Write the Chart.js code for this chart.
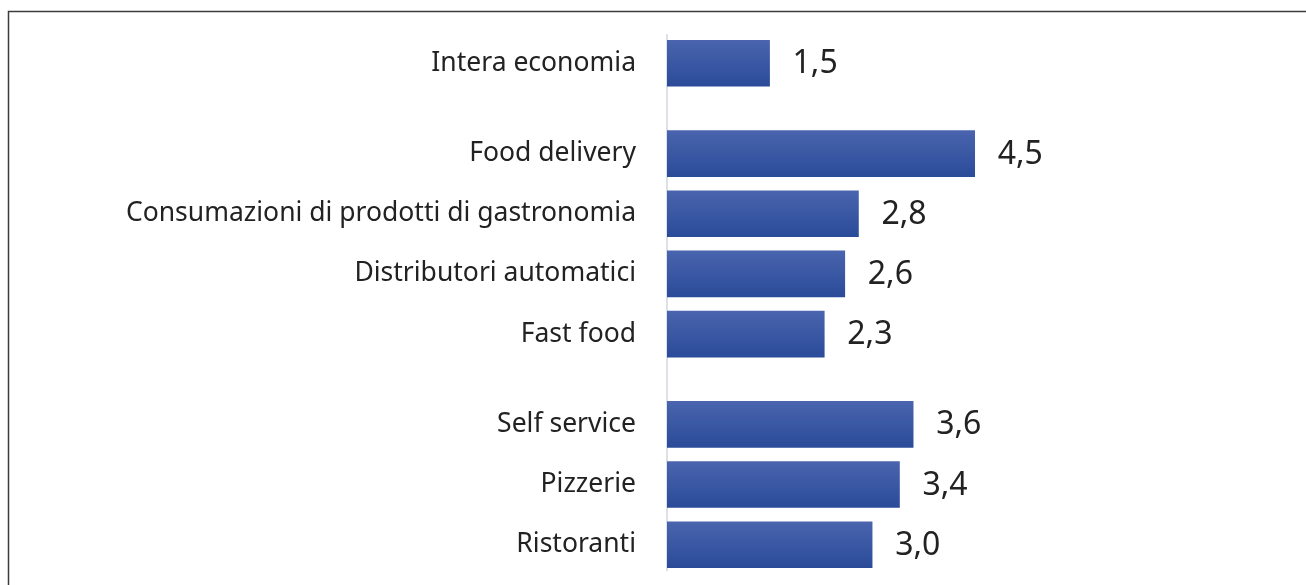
<!DOCTYPE html>
<html>
<head>
<meta charset="utf-8">
<script src="https://cdn.jsdelivr.net/npm/chart.js@4/dist/chart.umd.min.js"></script>
<style>
  html, body { margin: 0; padding: 0; background: #fff; }
  #wrap { position: relative; width: 1306px; height: 585px; }
</style>
</head>
<body>
<div id="wrap"><canvas id="c" width="1306" height="585"></canvas></div>
<script>
// ---- data ----
const groupA = ['Intera economia'];
const groupB = ['Food delivery', 'Consumazioni di prodotti di gastronomia', 'Distributori automatici', 'Fast food'];
const groupC = ['Self service', 'Pizzerie', 'Ristoranti'];
const valuesA = [1.5];
const valuesB = [4.5, 2.8, 2.6, 2.3];
const valuesC = [3.6, 3.4, 3.0];

const groups = [groupA, groupB, groupC];
const groupValues = [valuesA, valuesB, valuesC];

// build rows: half-row gap between groups
const labels = [];
const values = [];
const rows = [];
let pos = 0;
groups.forEach((g, gi) => {
  g.forEach((lab, i) => {
    labels.push(lab);
    values.push(groupValues[gi][i]);
    rows.push(pos);
    pos += 1;
  });
  pos += 0.5;
});

const FONT = '"Noto Sans", Lato, sans-serif';

const framePlugin = {
  id: 'frame',
  beforeDraw(chart) {
    const c = chart.ctx;
    c.save();
    c.fillStyle = '#fff';
    c.fillRect(0, 0, chart.width, chart.height);
    c.strokeStyle = '#3c3c3c';
    c.lineWidth = 1.5;
    c.beginPath();
    c.moveTo(8.5, chart.height);
    c.lineTo(8.5, 11.5);
    c.lineTo(chart.width, 11.5);
    c.stroke();
    c.restore();
  }
};

const valueLabels = {
  id: 'valueLabels',
  afterDatasetsDraw(chart) {
    const c = chart.ctx;
    const meta = chart.getDatasetMeta(0);
    c.save();
    c.font = '32px ' + FONT;
    c.fillStyle = '#222';
    c.textAlign = 'left';
    c.textBaseline = 'middle';
    meta.data.forEach((bar, i) => {
      const txt = values[i].toFixed(1).replace('.', ',');
      c.fillText(txt, bar.x + 23, bar.y + 1);
    });
    c.restore();
  }
};

new Chart(document.getElementById('c'), {
  type: 'bar',
  data: {
    datasets: [{
      data: values.map((v, i) => ({ x: v, y: rows[i] })),
      barThickness: 46,
      borderWidth: 0,
      backgroundColor(ctx) {
        const chart = ctx.chart;
        const ys = chart.scales.y;
        if (!ys || ctx.type !== 'data') return '#3a57a4';
        const yc = ys.getPixelForValue(rows[ctx.dataIndex]);
        if (!Number.isFinite(yc)) return '#3a57a4';
        const g = chart.ctx.createLinearGradient(0, yc - 23, 0, yc + 23);
        g.addColorStop(0, '#4a64ae');
        g.addColorStop(1, '#2a4b99');
        return g;
      }
    }]
  },
  options: {
    indexAxis: 'y',
    responsive: false,
    animation: false,
    devicePixelRatio: 1,
    layout: { padding: { top: 35, bottom: 15, left: 0, right: 92 } },
    plugins: { legend: { display: false }, tooltip: { enabled: false } },
    scales: {
      x: {
        type: 'linear',
        display: false,
        min: 0,
        max: 8
      },
      y: {
        type: 'linear',
        reverse: true,
        offset: false,
        bounds: 'data',
        min: -0.47,
        max: 8.42,
        afterFit(scale) {
          scale.width = 667;
          scale.paddingTop = 0;
          scale.paddingBottom = 0;
        },
        afterBuildTicks(scale) { scale.ticks = rows.map(v => ({ value: v })); },
        grid: { display: false, drawTicks: false, offset: false },
        border: { display: true, color: '#dde1e7', width: 2 },
        ticks: {
          autoSkip: false,
          padding: 31,
          color: '#222',
          font: { family: FONT, size: 26.5 },
          callback(value, index) { return labels[index]; }
        }
      }
    }
  },
  plugins: [framePlugin, valueLabels]
});
</script>
</body>
</html>
